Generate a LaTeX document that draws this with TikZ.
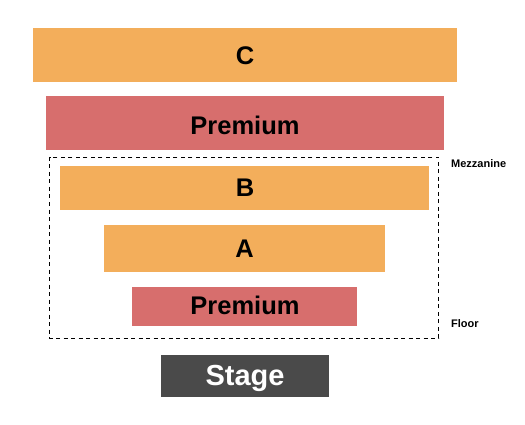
\documentclass[tikz,border=0pt]{standalone}
\usepackage{fontspec}
\setmainfont{Liberation Sans}
\definecolor{seatorange}{HTML}{F3AE5B}
\definecolor{seatred}{HTML}{D76E6D}
\definecolor{stagegray}{HTML}{4A4A4A}
\begin{document}
\begin{tikzpicture}[x=1pt,y=-1pt,
  txt/.style={anchor=base,inner sep=0pt,outer sep=0pt,text=black,font=\bfseries\fontsize{25.5}{25.5}\selectfont},
  lbl/.style={anchor=base west,inner sep=0pt,font=\bfseries\fontsize{11}{11}\selectfont}]
\useasboundingbox (0,0) rectangle (525,425);
\fill[seatorange] (33,28) rectangle (457,82.5);
\fill[seatred] (46,96) rectangle (444,150.5);
\draw[line width=0.9pt,dash pattern=on 4pt off 3.5pt] (49.5,157) rectangle (438.7,338);
\fill[seatorange] (60,166) rectangle (429,210);
\fill[seatorange] (104,225) rectangle (385,271.5);
\fill[seatred] (132,286.5) rectangle (357,325.5);
\fill[stagegray] (161,355) rectangle (329,396.5);
\node (c) [txt] at (245,65) {C};
\node (p1) [txt] at (245,134.3) {Premium};
\node (b) [txt] at (245,196.7) {B};
\node (a) [txt] at (244.5,257.5) {A};
\node (p2) [txt] at (245,314.3) {Premium};
\node (st) [txt,text=white,font=\bfseries\fontsize{29}{29}\selectfont] at (245,385) {Stage};
\node (mz) [lbl] at (451,167.5) {Mezzanine};
\node (fl) [lbl] at (451,327) {Floor};
\end{tikzpicture}
\end{document}
